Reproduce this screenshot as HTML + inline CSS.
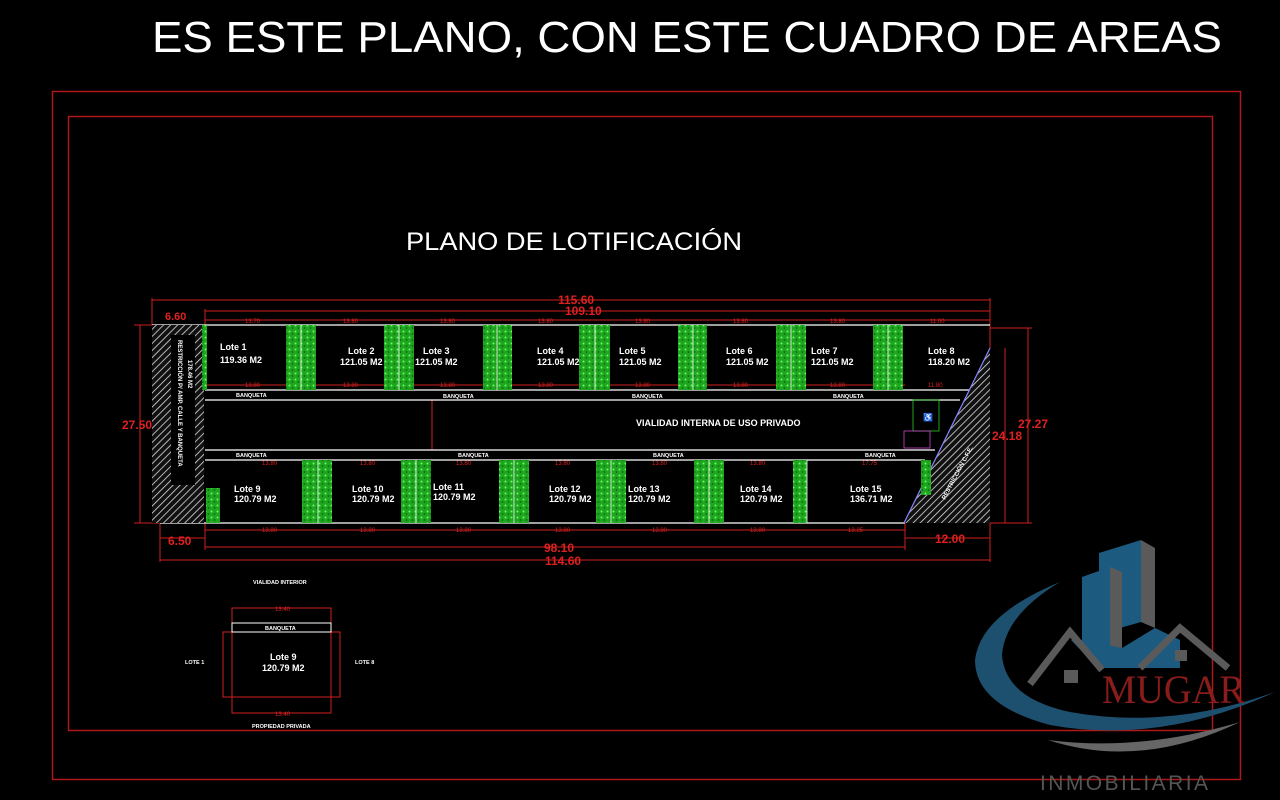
<!DOCTYPE html>
<html><head><meta charset="utf-8"><style>
html,body{margin:0;padding:0;background:#000;width:1280px;height:800px;overflow:hidden}
svg{display:block}
</style></head><body>
<svg width="1280" height="800" viewBox="0 0 1280 800" xmlns="http://www.w3.org/2000/svg" font-family="Liberation Sans, sans-serif">
<defs>
<pattern id="hatch" width="5" height="5" patternUnits="userSpaceOnUse" patternTransform="rotate(45)">
<rect width="5" height="5" fill="#111"/><line x1="0" y1="0" x2="0" y2="5" stroke="#ddd" stroke-width="1.6"/>
</pattern>
<pattern id="grass" width="6" height="6" patternUnits="userSpaceOnUse">
<rect width="6" height="6" fill="#1fa51f"/><circle cx="1.5" cy="1.5" r="1" fill="#6f6"/><circle cx="4.5" cy="4" r="0.9" fill="#0a6a0a"/>
</pattern>
</defs>
<rect width="1280" height="800" fill="#000"/>
<text x="152" y="52" font-size="44" fill="#fff" textLength="1070" lengthAdjust="spacingAndGlyphs">ES ESTE PLANO, CON ESTE CUADRO DE AREAS</text>
<rect x="52.5" y="91.5" width="1188" height="688" fill="none" stroke="#b01818" stroke-width="1.5"/>
<rect x="68.5" y="116.5" width="1144" height="614" fill="none" stroke="#b01818" stroke-width="1.5"/>
<text x="406" y="250" font-size="25" fill="#fff" textLength="336" lengthAdjust="spacingAndGlyphs">PLANO DE LOTIFICACIÓN</text>

<g stroke="#d02020" stroke-width="1" fill="none">
<line x1="152" y1="300" x2="990" y2="300"/><line x1="205" y1="311" x2="990" y2="311"/>
<line x1="152" y1="298" x2="152" y2="325"/><line x1="990" y1="298" x2="990" y2="348"/>
<line x1="205" y1="309" x2="205" y2="325"/>
<line x1="205" y1="320" x2="990" y2="320"/>
<line x1="205" y1="385" x2="905" y2="385"/>
<line x1="205" y1="530" x2="905" y2="530"/>
<line x1="160" y1="538" x2="205" y2="538"/><line x1="905" y1="538" x2="990" y2="538"/>
<line x1="205" y1="547" x2="905" y2="547"/>
<line x1="160" y1="560" x2="990" y2="560"/>
<line x1="160" y1="523" x2="160" y2="562"/><line x1="205" y1="523" x2="205" y2="550"/><line x1="905" y1="523" x2="905" y2="550"/><line x1="990" y1="523" x2="990" y2="562"/>
<line x1="140" y1="325" x2="140" y2="523"/><line x1="134" y1="325" x2="152" y2="325"/><line x1="134" y1="523" x2="160" y2="523"/>
<line x1="1005" y1="348" x2="1005" y2="523"/><line x1="1028" y1="328" x2="1028" y2="523"/>
<line x1="990" y1="328" x2="1032" y2="328"/><line x1="990" y1="523" x2="1032" y2="523"/>
<line x1="432" y1="400" x2="432" y2="450"/>
</g>
<g fill="#e02020" font-size="12" font-weight="bold">
<text x="558" y="304">115.60</text><text x="565" y="315">109.10</text>
<text x="165" y="320" font-size="11">6.60</text>
<text x="168" y="545">6.50</text><text x="544" y="552">98.10</text><text x="545" y="565">114.60</text>
<text x="935" y="543">12.00</text>
<text x="122" y="429">27.50</text><text x="992" y="440">24.18</text><text x="1018" y="428">27.27</text>
</g>
<g fill="#e02020" font-size="6">
<text x="245" y="323">13.70</text><text x="343" y="323">13.80</text><text x="440" y="323">13.80</text><text x="538" y="323">13.80</text><text x="635" y="323">13.80</text><text x="733" y="323">13.80</text><text x="830" y="323">13.80</text><text x="930" y="323">11.00</text>
<text x="245" y="387">13.80</text><text x="343" y="387">13.80</text><text x="440" y="387">13.80</text><text x="538" y="387">13.80</text><text x="635" y="387">13.80</text><text x="733" y="387">13.80</text><text x="830" y="387">13.80</text><text x="928" y="387">11.80</text>
<text x="262" y="465">13.80</text><text x="360" y="465">13.80</text><text x="456" y="465">13.80</text><text x="555" y="465">13.80</text><text x="652" y="465">13.80</text><text x="750" y="465">13.80</text><text x="862" y="465">17.75</text>
<text x="262" y="532">13.80</text><text x="360" y="532">13.80</text><text x="456" y="532">13.80</text><text x="555" y="532">13.80</text><text x="652" y="532">13.80</text><text x="750" y="532">13.80</text><text x="848" y="532">13.25</text>
</g>

<g stroke="#fff" stroke-width="1.2" fill="none">
<line x1="152" y1="325" x2="990" y2="325"/>
<line x1="205" y1="390" x2="975" y2="390"/>
<line x1="205" y1="400" x2="960" y2="400"/>
<line x1="205" y1="450" x2="935" y2="450"/>
<line x1="205" y1="460" x2="925" y2="460"/>
<line x1="160" y1="523" x2="905" y2="523"/>
</g>
<rect x="152" y="325" width="52" height="198" fill="url(#hatch)"/>
<rect x="171" y="335" width="24" height="150" fill="#000"/>
<text transform="translate(178,340) rotate(90)" font-size="6" fill="#fff" font-weight="bold">RESTRICCIÓN P/ AMP. CALLE Y BANQUETA</text>
<text transform="translate(188,360) rotate(90)" font-size="6" fill="#fff" font-weight="bold">178.46 M2</text>
<polygon points="990,348 904,523 990,523" fill="url(#hatch)"/>
<line x1="990" y1="348" x2="904" y2="523" stroke="#88f" stroke-width="1.2"/>
<text transform="translate(945,500) rotate(-62)" font-size="6" fill="#fff" font-weight="bold">RESTRICCIÓN C.F.E.</text>

<g fill="url(#grass)">
<rect x="286" y="325" width="30" height="65"/><rect x="384" y="325" width="30" height="65"/><rect x="483" y="325" width="29" height="65"/>
<rect x="579" y="325" width="31" height="65"/><rect x="678" y="325" width="29" height="65"/><rect x="776" y="325" width="30" height="65"/><rect x="873" y="325" width="30" height="65"/>
<rect x="202" y="325" width="5" height="65"/>
<rect x="302" y="460" width="30" height="63"/><rect x="401" y="460" width="30" height="63"/><rect x="499" y="460" width="30" height="63"/>
<rect x="596" y="460" width="30" height="63"/><rect x="694" y="460" width="30" height="63"/><rect x="793" y="460" width="14" height="63"/>
<rect x="206" y="488" width="14" height="35"/><rect x="921" y="460" width="10" height="35"/>
</g>
<g stroke="#fff" stroke-width="0.8">
<line x1="301" y1="325" x2="301" y2="390"/><line x1="399" y1="325" x2="399" y2="390"/><line x1="497" y1="325" x2="497" y2="390"/><line x1="595" y1="325" x2="595" y2="390"/><line x1="693" y1="325" x2="693" y2="390"/><line x1="791" y1="325" x2="791" y2="390"/><line x1="888" y1="325" x2="888" y2="390"/>
<line x1="318" y1="460" x2="318" y2="523"/><line x1="416" y1="460" x2="416" y2="523"/><line x1="514" y1="460" x2="514" y2="523"/><line x1="611" y1="460" x2="611" y2="523"/><line x1="709" y1="460" x2="709" y2="523"/><line x1="807" y1="460" x2="807" y2="523"/>
</g>
<g fill="#fff" font-size="9" font-weight="bold">
<text x="220" y="350">Lote 1</text><text x="220" y="363">119.36 M2</text>
<text x="348" y="354">Lote 2</text><text x="340" y="365">121.05 M2</text>
<text x="423" y="354">Lote 3</text><text x="415" y="365">121.05 M2</text>
<text x="537" y="354">Lote 4</text><text x="537" y="365">121.05 M2</text>
<text x="619" y="354">Lote 5</text><text x="619" y="365">121.05 M2</text>
<text x="726" y="354">Lote 6</text><text x="726" y="365">121.05 M2</text>
<text x="811" y="354">Lote 7</text><text x="811" y="365">121.05 M2</text>
<text x="928" y="354">Lote 8</text><text x="928" y="365">118.20 M2</text>
<text x="234" y="492">Lote 9</text><text x="234" y="502">120.79 M2</text>
<text x="352" y="492">Lote 10</text><text x="352" y="502">120.79 M2</text>
<text x="433" y="490">Lote 11</text><text x="433" y="500">120.79 M2</text>
<text x="549" y="492">Lote 12</text><text x="549" y="502">120.79 M2</text>
<text x="628" y="492">Lote 13</text><text x="628" y="502">120.79 M2</text>
<text x="740" y="492">Lote 14</text><text x="740" y="502">120.79 M2</text>
<text x="850" y="492">Lote 15</text><text x="850" y="502">136.71 M2</text>
<text x="636" y="426">VIALIDAD INTERNA DE USO PRIVADO</text>
</g>
<g fill="#fff" font-size="5.5" font-weight="bold">
<text x="236" y="397">BANQUETA</text><text x="443" y="398">BANQUETA</text><text x="632" y="398">BANQUETA</text><text x="833" y="398">BANQUETA</text>
<text x="236" y="457">BANQUETA</text><text x="458" y="457">BANQUETA</text><text x="653" y="457">BANQUETA</text><text x="865" y="457">BANQUETA</text>
</g>
<rect x="913" y="400" width="26" height="31" fill="none" stroke="#2c2" stroke-width="0.8"/>
<rect x="904" y="431" width="26" height="17" fill="none" stroke="#c4c" stroke-width="0.8"/>
<text x="923" y="420" fill="#fff" font-size="8">♿</text>

<g stroke="#d02020" fill="none" stroke-width="1">
<rect x="232" y="608" width="99" height="105"/>
<rect x="223" y="632" width="117" height="65"/>
</g>
<rect x="232" y="623" width="99" height="9" fill="none" stroke="#fff" stroke-width="1"/>
<g fill="#fff" font-size="5.5" font-weight="bold">
<text x="253" y="584">VIALIDAD INTERIOR</text><text x="265" y="630">BANQUETA</text>
<text x="185" y="664">LOTE 1</text><text x="355" y="664">LOTE 8</text><text x="252" y="728">PROPIEDAD PRIVADA</text>
</g>
<text x="270" y="660" fill="#fff" font-size="9" font-weight="bold">Lote 9</text><text x="262" y="671" fill="#fff" font-size="9" font-weight="bold">120.79 M2</text>
<text x="275" y="611" fill="#e02020" font-size="6">13.40</text><text x="275" y="716" fill="#e02020" font-size="6">13.40</text>

<g>
<path d="M1060,582 Q980,615 975,660 Q975,705 1050,725 Q1160,745 1275,692 Q1170,730 1070,712 Q1005,698 1002,655 Q1005,615 1060,582 Z" fill="#1d4f6e"/>
<path d="M1048,740 Q1140,770 1240,722 Q1140,752 1048,740 Z" fill="#666"/>
<polygon points="1099,553 1141,540 1141,622 1099,634" fill="#1d5a80"/>
<polygon points="1141,540 1155,548 1155,628 1141,622" fill="#5a5a5a"/>
<polygon points="1082,577 1110,567 1110,648 1082,640" fill="#1d5a80"/>
<polygon points="1110,567 1122,572 1122,648 1110,648" fill="#5a5a5a"/>
<polygon points="1071,640 1098,668 1180,668 1180,640 1155,628 1122,648 1082,640" fill="#1d5a80"/>
<polyline points="1030,684 1070,632 1102,670" fill="none" stroke="#5a5a5a" stroke-width="7"/>
<polyline points="1140,668 1180,628 1228,668" fill="none" stroke="#5a5a5a" stroke-width="7"/>
<rect x="1064" y="670" width="14" height="13" fill="#5a5a5a"/><rect x="1175" y="650" width="12" height="11" fill="#5a5a5a"/>
<text x="1102" y="703" font-family="Liberation Serif, serif" font-size="40" fill="#8a1c1c" textLength="143" lengthAdjust="spacingAndGlyphs">MUGAR</text>
<text x="1040" y="790" font-size="21" fill="#555" textLength="168" lengthAdjust="spacing">INMOBILIARIA</text>
</g>
</svg>
</body></html>
